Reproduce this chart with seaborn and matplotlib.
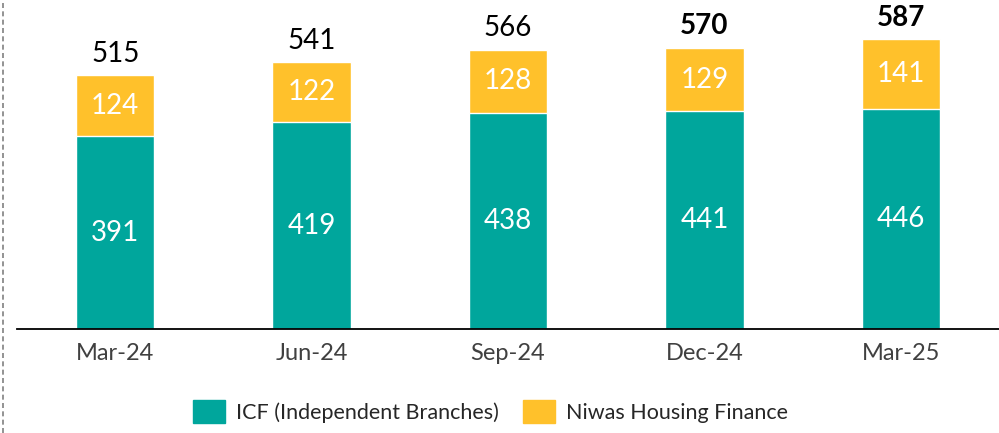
import pandas as pd
import seaborn as sns
import matplotlib.pyplot as plt
from matplotlib.patches import Patch
from matplotlib.lines import Line2D

quarters = ["Mar-24", "Jun-24", "Sep-24", "Dec-24", "Mar-25"]
icf = [391, 419, 438, 441, 446]
niwas = [124, 122, 128, 129, 141]
totals = [515, 541, 566, 570, 587]
bold_totals = [False, False, False, True, True]

teal = "#00A69C"
yellow = "#FFC12B"

df = pd.DataFrame({"quarter": quarters, "icf": icf, "niwas": niwas, "total": totals})

sns.set_style("white")
plt.rcParams["font.family"] = ["Lato", "DejaVu Sans"]

fig = plt.figure(figsize=(9.99, 4.33), dpi=100)
ax = fig.add_axes([0.017, 0.2402, 0.983, 0.7598])

# stacked bars: total in yellow, ICF on top of it in teal
sns.barplot(data=df, x="quarter", y="total", color=yellow, width=0.4, saturation=1, ax=ax)
sns.barplot(data=df, x="quarter", y="icf", color=teal, width=0.4, saturation=1, ax=ax)

for i in range(len(quarters)):
    ax.text(i, icf[i] / 2, str(icf[i]), ha="center", va="center", color="white", fontsize=20)
    ax.text(i, icf[i] + niwas[i] / 2, str(niwas[i]), ha="center", va="center", color="white", fontsize=20)
    ax.text(i, totals[i] + 17, str(totals[i]), ha="center", va="bottom", color="black", fontsize=20,
            fontweight="bold" if bold_totals[i] else "normal")

ax.set_xlim(-0.5, 4.5)
ax.set_ylim(0, 667)
ax.set_xlabel("")
ax.set_ylabel("")
ax.set_yticks([])
for s in ["top", "right", "left"]:
    ax.spines[s].set_visible(False)
ax.spines["bottom"].set_color("black")
ax.spines["bottom"].set_linewidth(1.3)
ax.tick_params(axis="x", length=0, pad=10, labelsize=17, labelcolor="#404040")

handles = [Patch(color=teal, label="ICF (Independent Branches)"),
           Patch(color=yellow, label="Niwas Housing Finance")]
fig.legend(handles=handles, loc="center", bbox_to_anchor=(0.491, 0.05), ncol=2, frameon=False,
           fontsize=15.5, handlelength=1.5, handleheight=1.3, columnspacing=1.1, handletextpad=0.5)

fig.add_artist(Line2D([0.003, 0.003], [0, 1], transform=fig.transFigure, color="#808080",
                      linestyle=(0, (3, 2)), linewidth=1.2))

plt.savefig("out.png", dpi=100)
